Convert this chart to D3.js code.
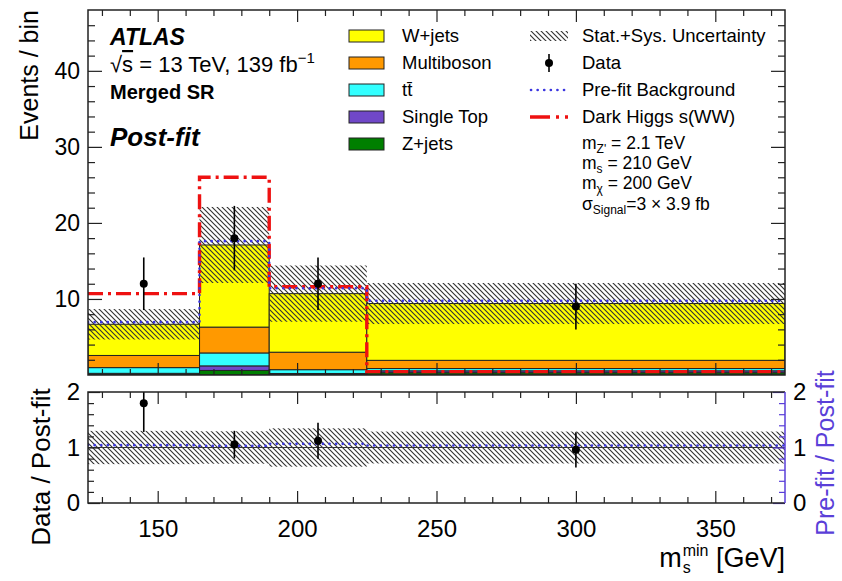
<!DOCTYPE html>
<html><head><meta charset="utf-8">
<script src="https://cdn.jsdelivr.net/npm/d3@7"></script>
<style>
body{margin:0;background:#fff}
svg{display:block}
text{font-family:"Liberation Sans",Arial,Helvetica,sans-serif;fill:#000}
</style>
</head><body>
<svg id="c" width="842" height="581"></svg>
<script>
// ---------------- data ----------------
const binEdges   = [125, 165, 190, 225, 375];
const dataX      = [145, 177.5, 207.5, 300];
const dataY      = [12, 18, 12, 9];
const dataErr    = [3.46, 4.24, 3.46, 3.0];
const zjets      = [0.12, 0.6, 0.05, 0.3];
const singleTop  = [0.1, 0.6, 0.15, 0.25];
const ttbar      = [0.75, 1.7, 0.5, 0.3];
const multiboson = [1.6, 3.4, 2.3, 1.08];
const wjets      = [4.1, 10.8, 7.7, 7.47];
const prefit     = [6.95, 17.6, 11.4, 9.75];
const uncert     = [2.0, 5.0, 3.7, 2.7];
const signal     = [10.7, 26.0, 11.6, 0.45];
const xTicks     = [150, 200, 250, 300, 350];
const yTicks     = [10, 20, 30, 40];
const ratioTicks = [0, 1, 2];
const bkgNames   = ["W+jets", "Multiboson", "tt\u0304", "Single Top", "Z+jets"];

// ---------------- setup ----------------
const svg = d3.select("#c");
const L = 88, R = 785, T = 10, B = 375, RT = 392, RB = 503;
const x  = d3.scaleLinear().domain([125, 375]).range([L, R]);
const y  = d3.scaleLinear().domain([0, 48]).range([B, T]);
const yr = d3.scaleLinear().domain([0, 2]).range([RB, RT]);

const colors = {zjets:"#007f00", singleTop:"#7048c8", ttbar:"#33ffff", multiboson:"#ff9900", wjets:"#ffff00"};
const blue = "#3b36e0", axisBlue = "#5a3fd8", red = "#ee1111";

const defs = svg.append("defs");
defs.append("pattern").attr("id","hatch").attr("patternUnits","userSpaceOnUse")
  .attr("width",5).attr("height",5)
  .append("path").attr("d","M-1,-1 L6,6 M-1,4 L1,6 M4,-1 L6,1")
  .attr("stroke","#333").attr("stroke-width",1.15);
defs.append("clipPath").attr("id","clipMain").append("rect")
  .attr("x",L).attr("y",T).attr("width",R-L).attr("height",B-T);
defs.append("clipPath").attr("id","clipRatio").append("rect")
  .attr("x",L).attr("y",RT).attr("width",R-L).attr("height",RB-RT);

// table for stack
const keys = ["zjets","singleTop","ttbar","multiboson","wjets"];
const src = {zjets, singleTop, ttbar, multiboson, wjets};
const table = binEdges.slice(0,-1).map((e,i)=>{
  const o = {i, lo:e, hi:binEdges[i+1]};
  keys.forEach(k=>o[k]=src[k][i]);
  return o;
});
const stacked = d3.stack().keys(keys)(table);
const total = table.map((d,i)=>keys.reduce((s,k)=>s+d[k],0));

// ---------------- main panel ----------------
const main = svg.append("g").attr("clip-path","url(#clipMain)");
stacked.forEach(layer=>{
  main.append("g").selectAll("rect").data(layer).join("rect")
    .attr("x",d=>x(d.data.lo)).attr("width",d=>x(d.data.hi)-x(d.data.lo))
    .attr("y",d=>y(d[1])).attr("height",d=>y(d[0])-y(d[1]))
    .attr("fill",colors[layer.key]).attr("stroke","#222").attr("stroke-width",1);
});
// uncertainty band
main.append("g").selectAll("rect").data(table).join("rect")
  .attr("x",d=>x(d.lo)).attr("width",d=>x(d.hi)-x(d.lo))
  .attr("y",(d,i)=>y(total[i]+uncert[i]))
  .attr("height",(d,i)=>y(total[i]-uncert[i])-y(total[i]+uncert[i]))
  .attr("fill","url(#hatch)");

function stepPts(vals, sc){
  const pts=[];
  vals.forEach((v,i)=>{pts.push([x(binEdges[i]),sc(v)]);pts.push([x(binEdges[i+1]),sc(v)]);});
  return pts;
}
const line = d3.line();
// signal
main.append("path").attr("d",line(stepPts(signal,y))).attr("fill","none")
  .attr("stroke",red).attr("stroke-width",3.4).attr("stroke-dasharray","15,5,3,5");
// prefit
main.append("path").attr("d",line(stepPts(prefit,y))).attr("fill","none")
  .attr("stroke",blue).attr("stroke-width",2.6).attr("stroke-linecap","round")
  .attr("stroke-dasharray","0.1,6.5");
// data
const dg = main.append("g");
dg.selectAll("line").data(dataX).join("line")
  .attr("x1",d=>x(d)).attr("x2",d=>x(d))
  .attr("y1",(d,i)=>y(dataY[i]+dataErr[i])).attr("y2",(d,i)=>y(dataY[i]-dataErr[i]))
  .attr("stroke","#000").attr("stroke-width",1.6);
dg.selectAll("circle").data(dataX).join("circle")
  .attr("cx",d=>x(d)).attr("cy",(d,i)=>y(dataY[i])).attr("r",4).attr("fill","#000");

// ---------------- ratio panel ----------------
const rp = svg.append("g").attr("clip-path","url(#clipRatio)");
rp.append("g").selectAll("rect").data(table).join("rect")
  .attr("x",d=>x(d.lo)).attr("width",d=>x(d.hi)-x(d.lo))
  .attr("y",(d,i)=>yr(1+uncert[i]/total[i]))
  .attr("height",(d,i)=>yr(1-uncert[i]/total[i])-yr(1+uncert[i]/total[i]))
  .attr("fill","url(#hatch)");
rp.append("line").attr("x1",L).attr("x2",R).attr("y1",yr(1)).attr("y2",yr(1))
  .attr("stroke","#333").attr("stroke-width",1);
rp.append("path").attr("d",line(stepPts(prefit.map((p,i)=>p/total[i]),yr))).attr("fill","none")
  .attr("stroke",blue).attr("stroke-width",2.6).attr("stroke-linecap","round")
  .attr("stroke-dasharray","0.1,6.5");
const rg = rp.append("g");
rg.selectAll("line").data(dataX).join("line")
  .attr("x1",d=>x(d)).attr("x2",d=>x(d))
  .attr("y1",(d,i)=>yr((dataY[i]+dataErr[i])/total[i])).attr("y2",(d,i)=>yr((dataY[i]-dataErr[i])/total[i]))
  .attr("stroke","#000").attr("stroke-width",1.6);
rg.selectAll("circle").data(dataX).join("circle")
  .attr("cx",d=>x(d)).attr("cy",(d,i)=>yr(dataY[i]/total[i])).attr("r",4).attr("fill","#000");

// ---------------- axes ----------------
function styleAxis(g, color, fs){
  g.select(".domain").remove();
  g.selectAll(".tick line").attr("stroke",color).attr("stroke-width",1.2);
  g.selectAll(".tick text").attr("fill",color).attr("font-size",fs)
    .attr("font-family","'Liberation Sans',Arial,sans-serif");
}
const xMinor = d3.range(130, 375, 10).filter(v=>v%50!==0);
function xAxes(yPos, top, labels){
  const mk = top ? d3.axisTop : d3.axisBottom;
  const gM = svg.append("g").attr("transform",`translate(0,${yPos})`)
    .call(mk(x).tickValues(xTicks).tickSizeInner(-12).tickSizeOuter(0).tickPadding(labels?17:0)
      .tickFormat(labels?d3.format("d"):()=>""));
  styleAxis(gM,"#222",24);
  const gm = svg.append("g").attr("transform",`translate(0,${yPos})`)
    .call(mk(x).tickValues(xMinor).tickSizeInner(-6).tickSizeOuter(0).tickFormat(()=>""));
  styleAxis(gm,"#222",24);
}
xAxes(T, true, false);
xAxes(B, false, false);
xAxes(RT, true, false);
xAxes(RB, false, true);

function yAxes(sc, major, minor, xPos, right, labels, color, fs, majLen){
  const mk = right ? d3.axisRight : d3.axisLeft;
  const gM = svg.append("g").attr("transform",`translate(${xPos},0)`)
    .call(mk(sc).tickValues(major).tickSizeInner(-majLen).tickSizeOuter(0).tickPadding(labels?8:0)
      .tickFormat(labels?d3.format("d"):()=>""));
  styleAxis(gM,color,fs);
  const gm = svg.append("g").attr("transform",`translate(${xPos},0)`)
    .call(mk(sc).tickValues(minor).tickSizeInner(-majLen/2).tickSizeOuter(0).tickFormat(()=>""));
  styleAxis(gm,color,fs);
}
const yMinor = d3.range(2, 48, 2).filter(v=>v%10!==0);
yAxes(y, yTicks, yMinor, L, false, true, "#222", 23, 14);
yAxes(y, yTicks, yMinor, R, true, false, "#222", 23, 14);
const rMinor = [0.2,0.4,0.6,0.8,1.2,1.4,1.6,1.8];
yAxes(yr, ratioTicks, rMinor, L, false, true, "#222", 24, 12);
yAxes(yr, ratioTicks, rMinor, R, true, true, axisBlue, 24, 12);

// frames
svg.append("rect").attr("x",L).attr("y",T).attr("width",R-L).attr("height",B-T)
  .attr("fill","none").attr("stroke","#222").attr("stroke-width",1.5);
svg.append("path").attr("d",`M${R},${RT} L${L},${RT} L${L},${RB} L${R},${RB}`)
  .attr("fill","none").attr("stroke","#222").attr("stroke-width",1.5);
svg.append("line").attr("x1",R).attr("x2",R).attr("y1",RT).attr("y2",RB)
  .attr("stroke",axisBlue).attr("stroke-width",1.5);

// ---------------- axis titles ----------------
svg.append("text").attr("transform","translate(38,10) rotate(-90)")
  .attr("text-anchor","end").attr("font-size",25).text("Events / bin");
svg.append("text").attr("transform","translate(50,467) rotate(-90)")
  .attr("text-anchor","middle").attr("font-size",26).text("Data / Post-fit");
svg.append("text").attr("transform","translate(834,453) rotate(-90)")
  .attr("text-anchor","middle").attr("font-size",25)
  .style("fill",axisBlue).text("Pre-fit / Post-fit");

// x title with stacked sub/superscript
const xt = svg.append("g");
const tm = xt.append("text").attr("x",0).attr("y",0).attr("font-size",27).text("m");
const wm = tm.node().getComputedTextLength();
const ts = xt.append("text").attr("x",wm+1).attr("y",6).attr("font-size",16).text("s");
const tmin = xt.append("text").attr("x",wm+1).attr("y",-11).attr("font-size",16).text("min");
const ws = Math.max(ts.node().getComputedTextLength(), tmin.node().getComputedTextLength());
const tg = xt.append("text").attr("x",wm+1+ws).attr("y",0).attr("font-size",27).text("\u00a0[GeV]");
const wtot = wm+1+ws+tg.node().getComputedTextLength();
xt.attr("transform",`translate(${R-wtot},567)`);

// ---------------- labels ----------------
svg.append("text").attr("x",110).attr("y",45).attr("font-size",23)
  .attr("font-weight","bold").attr("font-style","italic").text("ATLAS");
const sq = svg.append("text").attr("x",110).attr("y",72).attr("font-size",22);
sq.append("tspan").text("\u221A");
sq.append("tspan").style("text-decoration","overline").text("s");
sq.append("tspan").text(" = 13 TeV, 139 fb");
sq.append("tspan").attr("dy",-9).attr("font-size",15).text("\u22121");
svg.append("text").attr("x",110).attr("y",99).attr("font-size",20)
  .attr("font-weight","bold").text("Merged SR");
svg.append("text").attr("x",110).attr("y",146).attr("font-size",26)
  .attr("font-weight","bold").attr("font-style","italic").text("Post-fit");

// legend left column
const rows = [36, 63, 90, 117, 144];
const legColors = [colors.wjets, colors.multiboson, colors.ttbar, colors.singleTop, colors.zjets];
bkgNames.forEach((n,i)=>{
  svg.append("rect").attr("x",349).attr("y",rows[i]-6).attr("width",35).attr("height",12)
    .attr("fill",legColors[i]).attr("stroke","#222").attr("stroke-width",1);
  svg.append("text").attr("x",402).attr("y",rows[i]).attr("dy","0.35em").attr("font-size",18.5).text(n);
});
// legend right column
const rl = 582;
svg.append("rect").attr("x",530).attr("y",rows[0]-5).attr("width",38).attr("height",10).attr("fill","url(#hatch)");
svg.append("text").attr("x",rl).attr("y",rows[0]).attr("dy","0.35em").attr("font-size",18.5).text("Stat.+Sys. Uncertainty");
svg.append("line").attr("x1",549).attr("x2",549).attr("y1",rows[1]-9).attr("y2",rows[1]+9).attr("stroke","#000").attr("stroke-width",1.6);
svg.append("circle").attr("cx",549).attr("cy",rows[1]).attr("r",4).attr("fill","#000");
svg.append("text").attr("x",rl).attr("y",rows[1]).attr("dy","0.35em").attr("font-size",18.5).text("Data");
svg.append("line").attr("x1",531).attr("x2",568).attr("y1",rows[2]).attr("y2",rows[2])
  .attr("stroke",blue).attr("stroke-width",2.6).attr("stroke-linecap","round").attr("stroke-dasharray","0.1,6.5");
svg.append("text").attr("x",rl).attr("y",rows[2]).attr("dy","0.35em").attr("font-size",18.5).text("Pre-fit Background");
svg.append("line").attr("x1",530).attr("x2",568).attr("y1",rows[3]).attr("y2",rows[3])
  .attr("stroke",red).attr("stroke-width",3.4).attr("stroke-dasharray","20,6,3,6");
svg.append("text").attr("x",rl).attr("y",rows[3]).attr("dy","0.35em").attr("font-size",18.5).text("Dark Higgs s(WW)");

function subText(yPos, parts){
  const t = svg.append("text").attr("x",rl).attr("y",yPos).attr("font-size",17.5);
  parts.forEach(p=>{
    const ts = t.append("tspan").text(p.t);
    if(p.sub){ ts.attr("font-size",12).attr("dy",4); }
    if(p.back){ ts.attr("dy",-4); }
  });
}
subText(149, [{t:"m"},{t:"Z'",sub:true},{t:" = 2.1 TeV",back:true}]);
subText(169, [{t:"m"},{t:"s",sub:true},{t:" = 210 GeV",back:true}]);
subText(189, [{t:"m"},{t:"\u03c7",sub:true},{t:" = 200 GeV",back:true}]);
subText(210, [{t:"\u03c3"},{t:"Signal",sub:true},{t:"=3 \u00d7 3.9 fb",back:true}]);
</script>
</body></html>
